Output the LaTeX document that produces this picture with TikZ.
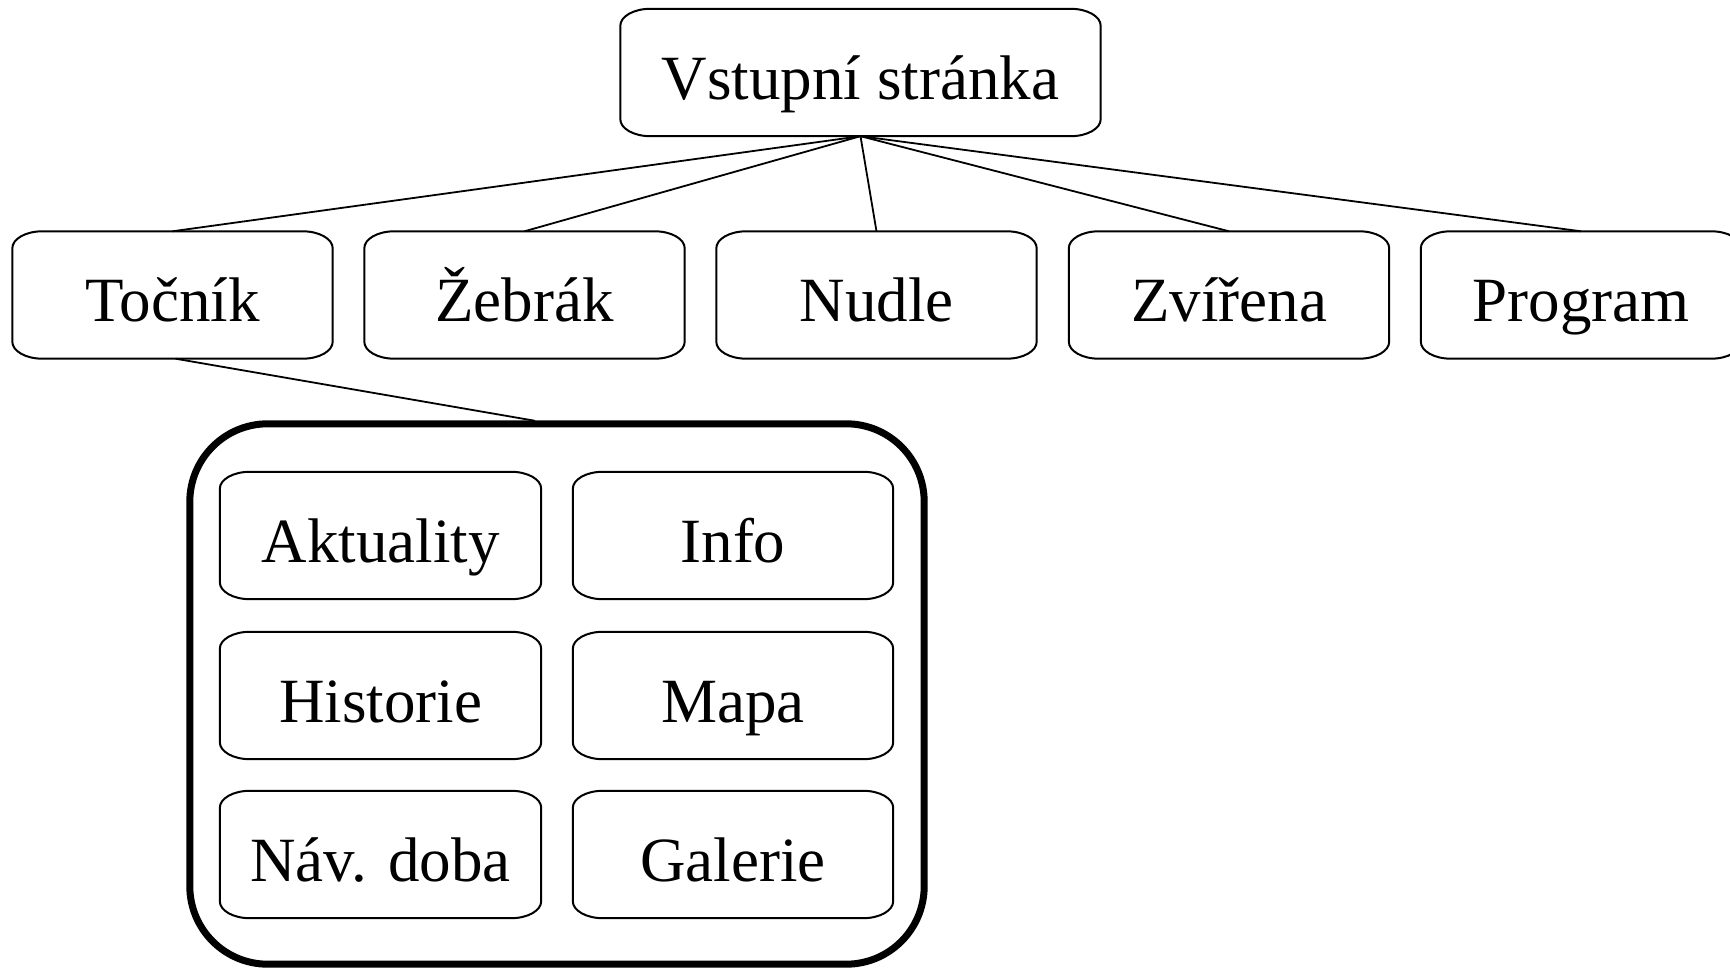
\documentclass[tikz,border=0pt]{standalone}
\usepackage{fontspec}
\setmainfont{Liberation Serif}
\usetikzlibrary{calc}
\tikzset{
  x=1pt,y=1pt,
  thinline/.style={line width=2pt, black},
  boxnode/.style={draw=none, inner sep=0pt, minimum height=127pt, minimum width=320pt,
    font=\fontsize{63}{70}\selectfont, text height=54pt, text depth=0pt},
  conn/.style={line width=1.8pt, black},
}
\newcommand\eframe[1]{%
  \draw[thinline] ([xshift=30pt]#1.north west) -- ([xshift=-30pt]#1.north east)
    arc[start angle=90,end angle=0,x radius=30,y radius=17]
    -- ([yshift=17pt]#1.south east)
    arc[start angle=0,end angle=-90,x radius=30,y radius=17]
    -- ([xshift=30pt]#1.south west)
    arc[start angle=270,end angle=180,x radius=30,y radius=17]
    -- ([yshift=-17pt]#1.north west)
    arc[start angle=180,end angle=90,x radius=30,y radius=17] -- cycle;}
\begin{document}
\begin{tikzpicture}
\useasboundingbox (0,0) rectangle (1730,970);
\fill[white] (0,0) rectangle (1730,970);
% top
\node[boxnode, minimum width=480pt] (top) at (860.5,897.5) {Vstupní stránka};
% second row
\node[boxnode] (tocnik) at (172.5,675) {Točník};
\node[boxnode] (zebrak) at (524.5,675) {Žebrák};
\node[boxnode] (nudle) at (876.5,675) {Nudle};
\node[boxnode] (zvirena) at (1229,675) {Zvířena};
\node[boxnode] (program) at (1581,675) {Program};
% group
\node[draw=none, inner sep=0pt, minimum width=734pt, minimum height=540pt] (grp) at (557,276) {};
\draw[line width=7pt, rounded corners=78pt] (grp.north west) rectangle (grp.south east);
% inner
\node[boxnode, minimum width=321pt] (akt) at (380.5,434.5) {Aktuality};
\node[boxnode] (info) at (733,434.5) {Info};
\node[boxnode, minimum width=321pt] (hist) at (380.5,274.5) {Historie};
\node[boxnode] (mapa) at (733,274.5) {Mapa};
\node[boxnode, minimum width=321pt] (nav) at (380.5,115.5) {Náv. doba};
\node[boxnode] (gal) at (733,115.5) {Galerie};
\foreach \n in {top,tocnik,zebrak,nudle,zvirena,program,akt,info,hist,mapa,nav,gal}{\eframe{\n}}
% connectors
\foreach \n in {tocnik,zebrak,nudle,zvirena,program}{\draw[conn] (top.south) -- (\n.north);}
\coordinate (grpin) at ([xshift=-22pt,yshift=3pt]grp.north);
\draw[conn] ([xshift=3pt]tocnik.south) -- (grpin);
\end{tikzpicture}
\end{document}
